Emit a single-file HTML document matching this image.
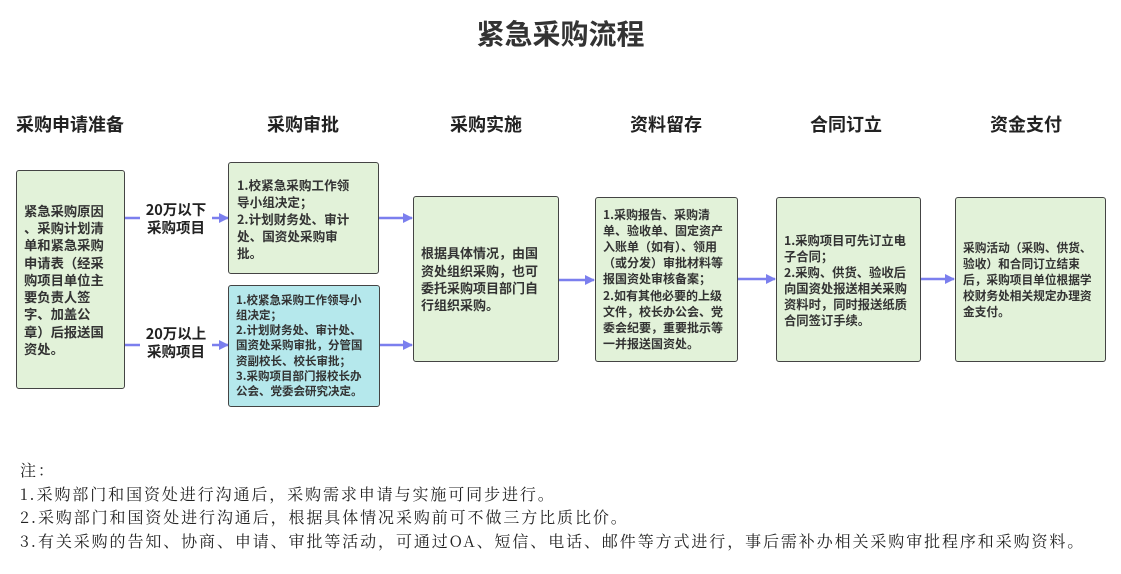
<!DOCTYPE html>
<html><head><meta charset="utf-8"><style>
body{margin:0;width:1121px;height:574px;background:#fff;position:relative;overflow:hidden;font-family:"Liberation Sans","Noto Sans CJK SC",sans-serif;}
.a{position:absolute}
.t{font-size:28px;font-weight:bold;color:#333;left:0;width:1121px;text-align:center;top:13px}
.h{font-size:18px;font-weight:bold;color:#222;width:160px;text-align:center;top:111px}
.b{border:1.5px solid #444;border-radius:3px;background:#e2f2d9;box-sizing:border-box;display:flex;align-items:center;padding:0 7px;font-family:"Noto Sans CJK SC",sans-serif;font-weight:bold;color:#333;white-space:nowrap;overflow:visible}
.lbl{font-size:14.5px;font-weight:bold;color:#222;text-align:center;line-height:18px;font-family:"Noto Sans CJK SC",sans-serif}
.n{left:20px;font-family:"Noto Serif CJK SC",serif;font-size:16px;color:#222;line-height:23.7px;top:458px;letter-spacing:1.9px;white-space:nowrap}
</style></head><body>
<div class="a t">紧急采购流程</div>
<div class="a h" style="left:-10px">采购申请准备</div>
<div class="a h" style="left:223px">采购审批</div>
<div class="a h" style="left:406px">采购实施</div>
<div class="a h" style="left:586px">资料留存</div>
<div class="a h" style="left:766px">合同订立</div>
<div class="a h" style="left:946px">资金支付</div>

<svg class="a" style="left:0;top:0" width="1121" height="574">
<defs><marker id="m" markerWidth="10" markerHeight="10" refX="9" refY="5" orient="auto" markerUnits="userSpaceOnUse"><path d="M0,0 L10,5 L0,10 z" fill="#7b7fee"/></marker></defs>
<g stroke="#7b7fee" stroke-width="2.5" marker-end="url(#m)">
<line x1="124" y1="218" x2="228" y2="218"/>
<line x1="124" y1="345" x2="228" y2="345"/>
<line x1="378" y1="218" x2="412" y2="218"/>
<line x1="379" y1="345" x2="412" y2="345"/>
<line x1="558" y1="280" x2="594" y2="280"/>
<line x1="737" y1="279" x2="775" y2="279"/>
<line x1="920" y1="279" x2="954" y2="279"/>
</g></svg>
<div class="a lbl" style="left:140px;top:201px;width:72px;background:#fff">20万以下<br>采购项目</div>
<div class="a lbl" style="left:140px;top:325px;width:72px;background:#fff">20万以上<br>采购项目</div>

<div class="a b" style="left:16px;top:170px;width:109px;height:219px;font-size:13.3px;line-height:17.3px">紧急采购原因<br>、采购计划清<br>单和紧急采购<br>申请表（经采<br>购项目单位主<br>要负责人签<br>字、加盖公<br>章）后报送国<br>资处。</div>
<div class="a b" style="left:228px;top:162px;width:151px;height:112px;font-size:12.6px;line-height:17px;padding-left:8px">1.校紧急采购工作领<br>导小组决定；<br>2.计划财务处、审计<br>处、国资处采购审<br>批。</div>
<div class="a b" style="left:228px;top:285px;width:152px;height:122px;background:#b5e8ec;font-size:11.5px;line-height:15.2px;padding-left:7px">1.校紧急采购工作领导小<br>组决定；<br>2.计划财务处、审计处、<br>国资处采购审批，分管国<br>资副校长、校长审批；<br>3.采购项目部门报校长办<br>公会、党委会研究决定。</div>
<div class="a b" style="left:413px;top:196px;width:146px;height:166px;font-size:13px;line-height:17.3px">根据具体情况，由国<br>资处组织采购，也可<br>委托采购项目部门自<br>行组织采购。</div>
<div class="a b" style="left:595px;top:197px;width:143px;height:165px;font-size:12px;line-height:16.2px">1.采购报告、采购清<br>单、验收单、固定资产<br>入账单（如有）、领用<br>（或分发）审批材料等<br>报国资处审核备案；<br>2.如有其他必要的上级<br>文件，校长办公会、党<br>委会纪要，重要批示等<br>一并报送国资处。</div>
<div class="a b" style="left:776px;top:197px;width:145px;height:165px;font-size:12.3px;line-height:16px">1.采购项目可先订立电<br>子合同；<br>2.采购、供货、验收后<br>向国资处报送相关采购<br>资料时，同时报送纸质<br>合同签订手续。</div>
<div class="a b" style="left:955px;top:197px;width:151px;height:165px;font-size:11.7px;line-height:16px">采购活动（采购、供货、<br>验收）和合同订立结束<br>后，采购项目单位根据学<br>校财务处相关规定办理资<br>金支付。</div>

<div class="a n">注：<br>1.采购部门和国资处进行沟通后，采购需求申请与实施可同步进行。<br>2.采购部门和国资处进行沟通后，根据具体情况采购前可不做三方比质比价。<br>3.有关采购的告知、协商、申请、审批等活动，可通过OA、短信、电话、邮件等方式进行，事后需补办相关采购审批程序和采购资料。</div>
</body></html>
